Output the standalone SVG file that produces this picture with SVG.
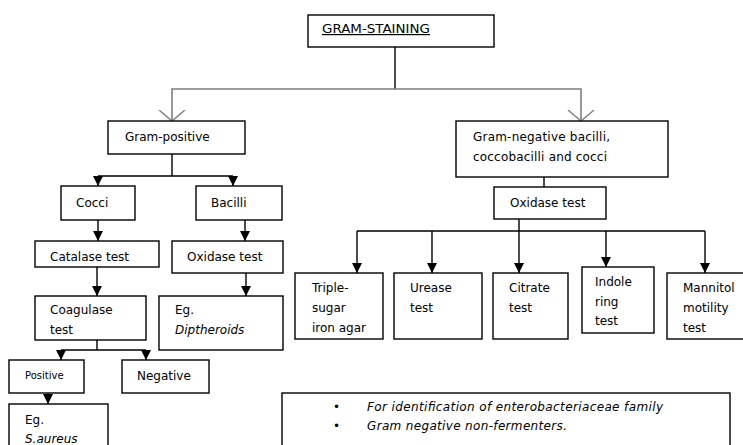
<svg xmlns="http://www.w3.org/2000/svg" width="743" height="445" viewBox="0 0 743 445">
<style>
.box{fill:#fff;stroke:#000;stroke-width:1.4}
.t{font-family:"DejaVu Sans","Verdana",sans-serif;font-size:12px;fill:#000}
.s{font-size:10px}
.i{font-style:italic}
.c{fill:none;stroke:#000;stroke-width:1.4}
.g{fill:none;stroke:#7f7f7f;stroke-width:1.6}
.a{marker-end:url(#arr)}
.o{marker-end:url(#open)}
</style>
<defs>
<marker id="arr" markerUnits="userSpaceOnUse" viewBox="0 0 10 10" markerWidth="10" markerHeight="10" refX="10" refY="5" orient="auto">
<path d="M0,0 L10,5 L0,10 z" fill="#000"/>
</marker>
<marker id="open" markerUnits="userSpaceOnUse" viewBox="0 0 12 28" markerWidth="12" markerHeight="28" refX="11" refY="14" orient="auto">
<path d="M0,1 L11,14 L0,27" fill="none" stroke="#7f7f7f" stroke-width="1.4"/>
</marker>
</defs>

<g id="connectors">
<path class="c" d="M395,47 V89" stroke="#333"/>
<path class="g o" d="M395,89 H172 V121"/>
<path class="g o" d="M395,89 H581 V121"/>
<path class="c" d="M172,154 V176 M98,176 H233"/>
<path class="c a" d="M98,176 V186"/>
<path class="c a" d="M233,176 V186"/>
<path class="c a" d="M98,220 V241"/>
<path class="c a" d="M245,220 V241"/>
<path class="c a" d="M97,267 V296"/>
<path class="c a" d="M246,273 V296"/>
<path class="c" d="M97,340 V350 M61,350 H146"/>
<path class="c a" d="M61,350 V360"/>
<path class="c a" d="M146,350 V360"/>
<path class="c a" d="M48,393 V404"/>
<path class="c" d="M544,177 V187"/>
<path class="c" d="M519,219 V231 M357,231 H705"/>
<path class="c a" d="M357,231 V273"/>
<path class="c a" d="M432,231 V273"/>
<path class="c a" d="M519,231 V273"/>
<path class="c a" d="M606,231 V267"/>
<path class="c a" d="M705,231 V273"/>
</g>

<g id="gram-staining">
<rect class="box" x="308" y="15" width="186" height="32"/>
<text class="t" x="322" y="33" text-decoration="underline" textLength="108" lengthAdjust="spacingAndGlyphs">GRAM-STAINING</text>
</g>
<g id="gram-positive">
<rect class="box" x="108" y="121" width="137" height="33"/>
<text class="t" x="125" y="141">Gram-positive</text>
</g>
<g id="gram-negative">
<rect class="box" x="456" y="121" width="212" height="56"/>
<text class="t" x="473" y="141" textLength="137">Gram-negative bacilli,</text>
<text class="t" x="473" y="161" textLength="134">coccobacilli and cocci</text>
</g>
<g id="oxidase-right">
<rect class="box" x="494" y="187" width="112" height="32"/>
<text class="t" x="510" y="207">Oxidase test</text>
</g>
<g id="cocci">
<rect class="box" x="61" y="186" width="74" height="34"/>
<text class="t" x="76" y="207">Cocci</text>
</g>
<g id="bacilli">
<rect class="box" x="196" y="186" width="86" height="34"/>
<text class="t" x="211" y="207">Bacilli</text>
</g>
<g id="catalase">
<rect class="box" x="35" y="241" width="124" height="26"/>
<text class="t" x="50" y="261" textLength="79">Catalase test</text>
</g>
<g id="oxidase-left">
<rect class="box" x="172" y="241" width="111" height="32"/>
<text class="t" x="187" y="261">Oxidase test</text>
</g>
<g id="coagulase">
<rect class="box" x="35" y="296" width="111" height="44"/>
<text class="t" x="50" y="314">Coagulase</text>
<text class="t" x="50" y="334">test</text>
</g>
<g id="diptheroids">
<rect class="box" x="159" y="296" width="124" height="54"/>
<text class="t" x="175" y="314">Eg.</text>
<text class="t i" x="175" y="334">Diptheroids</text>
</g>
<g id="positive">
<rect class="box" x="9" y="360" width="75" height="33"/>
<text class="t s" x="25" y="379">Positive</text>
</g>
<g id="negative">
<rect class="box" x="122" y="360" width="87" height="33"/>
<text class="t" x="137" y="380">Negative</text>
</g>
<g id="saureus">
<rect class="box" x="9" y="404" width="99" height="50"/>
<text class="t" x="25" y="424">Eg.</text>
<text class="t i" x="25" y="443">S.aureus</text>
</g>
<g id="tsi">
<rect class="box" x="295" y="273" width="88" height="66"/>
<text class="t" x="312" y="292">Triple-</text>
<text class="t" x="312" y="312">sugar</text>
<text class="t" x="312" y="332">iron agar</text>
</g>
<g id="urease">
<rect class="box" x="394" y="273" width="88" height="66"/>
<text class="t" x="410" y="292">Urease</text>
<text class="t" x="410" y="312">test</text>
</g>
<g id="citrate">
<rect class="box" x="493" y="273" width="75" height="66"/>
<text class="t" x="509" y="292">Citrate</text>
<text class="t" x="509" y="312">test</text>
</g>
<g id="indole">
<rect class="box" x="582" y="267" width="72" height="66"/>
<text class="t" x="595" y="286">Indole</text>
<text class="t" x="595" y="306">ring</text>
<text class="t" x="595" y="325">test</text>
</g>
<g id="mannitol">
<rect class="box" x="667" y="273" width="90" height="66"/>
<text class="t" x="683" y="292">Mannitol</text>
<text class="t" x="683" y="312">motility</text>
<text class="t" x="683" y="332">test</text>
</g>
<g id="note">
<rect class="box" x="282" y="393" width="448" height="60"/>
<text class="t" x="333" y="411">•</text>
<text class="t" x="333" y="430">•</text>
<text class="t i" x="367" y="411" font-size="11.5" textLength="296">For identification of enterobacteriaceae family</text>
<text class="t i" x="367" y="430" font-size="11.5" textLength="200">Gram negative non-fermenters.</text>
</g>
</svg>
